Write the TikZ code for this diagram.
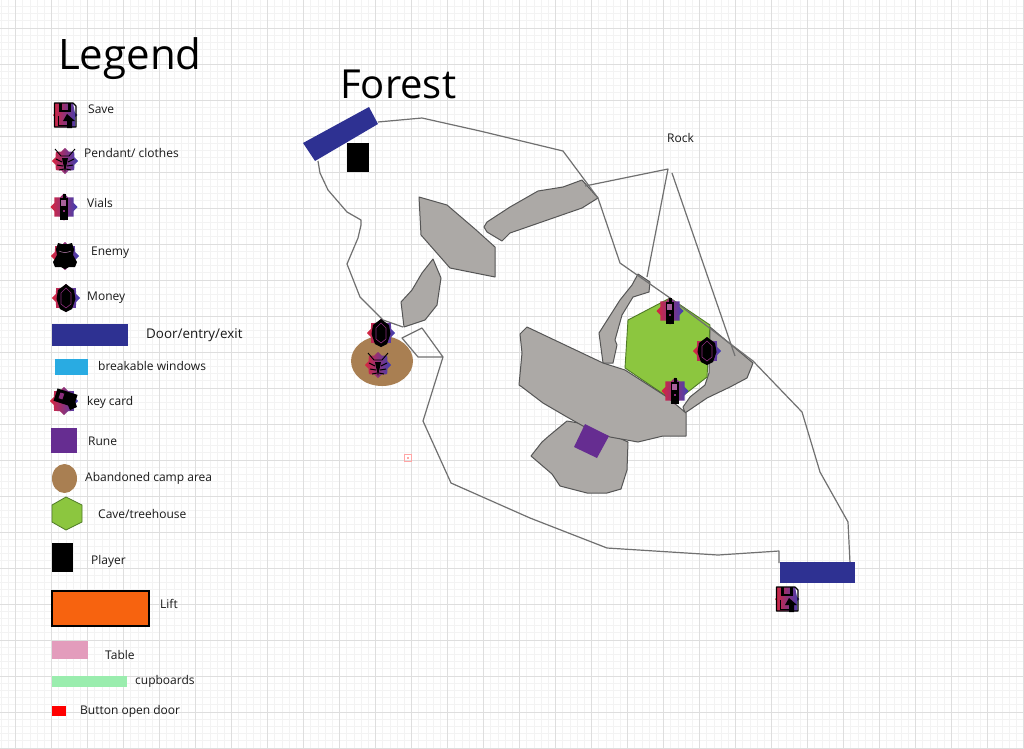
\documentclass[tikz,border=0pt]{standalone}
\usepackage{fontspec}
\setmainfont{Open Sans}
\definecolor{doorblue}{HTML}{2E3192}
\definecolor{rock}{HTML}{ACA9A6}
\definecolor{rockedge}{HTML}{555555}
\definecolor{lineg}{HTML}{707070}
\definecolor{leaf}{HTML}{8CC63F}
\definecolor{leafedge}{HTML}{4F7A26}
\definecolor{camp}{HTML}{A97F52}
\definecolor{runep}{HTML}{662D91}
\definecolor{winblue}{HTML}{29ABE2}
\definecolor{liftor}{HTML}{F7630F}
\definecolor{tablep}{HTML}{E39CBC}
\definecolor{cupg}{HTML}{9AEDAE}
\definecolor{gridmin}{HTML}{F3F3F3}
\definecolor{gridmaj}{HTML}{DEDEDE}
\definecolor{glyphm}{HTML}{8A2D7A}
\definecolor{starred}{HTML}{D8253F}
\definecolor{starblue}{HTML}{3F3FB5}
\tikzset{
  x=1pt,y=-1pt,
  label/.style={anchor=base west,inner sep=0pt,font=\fontsize{12}{14}\selectfont,text=black!90},
  biglabel/.style={label,font=\fontsize{13.4}{15}\selectfont},
  title/.style={anchor=base west,inner sep=0pt,text=black},
  rockshape/.style={fill=rock,draw=rockedge,line width=1pt,line join=round},
  mapline/.style={draw=lineg,line width=1.2pt,line join=round},
  starbg/.style={left color=starred,middle color=glyphm,right color=starblue,draw=none},
  pics/starback/.style={code={
    \shade[starbg] plot[samples at={0,...,15}] ({cos(\x*22.5)*(mod(\x,2)==0?#1:#1*0.78)},{sin(\x*22.5)*(mod(\x,2)==0?#1:#1*0.78)}) -- cycle;
  }},
  pics/icovial/.style={code={
    \pic {starback=13.5};
    \fill[black] (-4,-9) rectangle (4,13);
    \fill[black] (-1.5,-13) rectangle (1.5,-8);
    \fill[glyphm!75!white] (-3,-7) rectangle (2,-1);
    \fill[glyphm] (-1,3) rectangle (1,5);
  }},
  pics/icomoney/.style={code={
    \pic {starback=14};
    \fill[black] (0,-14) -- (8,-8) -- (9.5,1) -- (6,11) -- (0,14) -- (-6,11) -- (-9.5,1) -- (-8,-8) -- cycle;
    \draw[glyphm,line width=0.6pt] (0,-10) -- (5,-5) -- (5,6) -- (0,10) -- (-5,6) -- (-5,-5) -- cycle;
  }},
  pics/icoenemy/.style={code={
    \pic {starback=14};
    \fill[black] (-7,-13) -- (-3,-12) -- (3,-12) -- (7,-13) -- (9,-7) -- (8,-1) -- (12,6) -- (10,11) -- (4,11) -- (0,13) -- (-4,11) -- (-10,11) -- (-12,6) -- (-8,-1) -- (-9,-7) -- cycle;
    \draw[glyphm!60!white,line width=0.5pt] (-6,-5) .. controls (-2,-3) and (2,-3) .. (6,-5);
  }},
  pics/icopendant/.style={code={
    \pic {starback=13};
    \draw[black,line width=0.9pt] (-10,-12) -- (-4,-5) -- (4,-5) -- (10,-12);
    \fill[black] (-3,-3) -- (3,-3) -- (1.5,4) -- (0,11) -- (-1.5,4) -- cycle;
    \draw[black,line width=1pt] (-9,-2) -- (-3,1) (9,-2) -- (3,1) (-8,4) -- (-2,5) (8,4) -- (2,5) (-6,9) -- (-1,8) (6,9) -- (1,8);
  }},
  pics/icosave/.style={code={
    \shade[starbg] (-12,0) -- (-10,-2) -- (-10,-12) -- (8,-12) -- (10,-2) -- (12.5,0) -- (10,2) -- (10,12) -- (-10,12) -- (-10,2) -- cycle;
    \draw[black,line width=1.1pt,line join=round] (-10.5,-12) -- (8,-12) -- (11,-9) -- (11,12) -- (-10.5,12) -- cycle;
    \fill[black] (-6,-12) rectangle (-3,-4);
    \fill[black] (-6,-5) rectangle (6,-3.5);
    \fill[black] (3,-12) rectangle (6,-4);
    \draw[black,line width=1pt] (-7,1) -- (-7,10.5) -- (7,10.5);
    \fill[black] (2,-1) -- (10,6) -- (7,6) -- (7,13) -- (2,13) -- (2,6) -- (-2,6) -- cycle;
  }},
  pics/icokey/.style={code={
    \begin{scope}[rotate=25]
      \pic {starback=14};
    \end{scope}
    \begin{scope}[rotate=-18]
      \fill[black] (-10,-10) rectangle (11,3);
      \fill[glyphm] (-6,-7) rectangle (-2,-1);
    \end{scope}
    \fill[black] (3,2) -- (11,0) -- (13,6) -- (6,9) -- cycle;
  }}
}
\begin{document}
\begin{tikzpicture}
\useasboundingbox (0,0) rectangle (1024,748);
\fill[white] (0,0) rectangle (1024,748);
% grid
\foreach \i in {-2,...,140}{
  \draw[gridmin,line width=0.7pt] ({15.5+7.2*\i},0) -- ({15.5+7.2*\i},748);}
\foreach \i in {-3,...,100}{
  \draw[gridmin,line width=0.7pt] (0,{28+7.2*\i}) -- (1024,{28+7.2*\i});}
\foreach \i in {0,...,28}{
  \draw[gridmaj,line width=1pt] ({15.5+36*\i},0) -- ({15.5+36*\i},748);}
\foreach \i in {0,...,20}{
  \draw[gridmaj,line width=1pt] (0,{28+36*\i}) -- (1024,{28+36*\i});}

% camp
\fill[camp] (382,361) ellipse [x radius=31,y radius=25];

% rocks
\path[rockshape] (419,197) -- (447,205) -- (475,229) -- (495,247) -- (495,277) -- (450,268) -- (421,235) -- cycle;
\path[rockshape] (484,227) -- (487,222) -- (510,207) -- (538,191) -- (563,187) -- (582,180) -- (598,198) -- (582,208) -- (510,233) -- (502,241) -- (487,232) -- cycle;
\path[rockshape] (433,259) -- (441,278) -- (437,305) -- (425,320) -- (404,327) -- (401,302) -- (412,290) -- (422,273) -- cycle;
\path[rockshape] (567,421) -- (550,435) -- (542,442) -- (531,456) -- (552,474) -- (560,486) -- (587,493) -- (607,493) -- (621,489) -- (627,470) -- (628,442) -- (590,425) -- cycle;
\path[rockshape] (638,274) -- (650,282) -- (649,292) -- (633,297) -- (622,315) -- (615,340) -- (617,345) -- (613,363) -- (603,363) -- (599,333) -- (620,300) -- (632,285) -- cycle;
\path[rockshape] (710,327) -- (753,363) -- (747,378) -- (730,387) -- (707,398) -- (685,413) -- (683,407) -- (690,397) -- (705,385) -- (709,373) -- cycle;
\path[fill=leaf,draw=leafedge,line width=0.9pt,line join=round] (628,320) -- (670,298) -- (710,325) -- (707,377) -- (675,402) -- (625,368) -- cycle;
\path[rockshape] (527,327) -- (520,334) -- (522,353) -- (519,385) -- (522,387) -- (543,403) -- (567,417) -- (583,426) -- (610,437) -- (638,442) -- (663,436) -- (686,436) -- (686,413) -- (667,397) -- (625,370) -- (603,363) -- cycle;

% map outline
\draw[mapline] (378,122) -- (422,118) -- (480,131) -- (563,151) -- (598,198) -- (620,263) -- (670,298) -- (753,361) -- (802,412) -- (820,472) -- (848,522) -- (850,563);
\draw[mapline] (779,563) -- (779,551) -- (718,555) -- (607,548) -- (530,518) -- (451,483) -- (423,421) -- (443,357) -- (422,328) -- (402,338) -- (418,357) -- (443,357);
\draw[mapline] (318,161) -- (320,173) -- (328,190) -- (347,212) -- (361,220) -- (361,225) -- (358,238) -- (347,264) -- (360,297) -- (383,320) -- (403,327);
\draw[mapline] (585,186) -- (668,169) -- (647,277);
\draw[mapline] (672,173) -- (735,356);

% doors and player
\fill[doorblue] (369,107) -- (378,124) -- (315,161) -- (303,143) -- cycle;
\fill[black] (347,143) rectangle (369,172);
\fill[doorblue] (780,562) rectangle (855,583);
\fill[runep] (585,424) -- (609,436) -- (597,458) -- (574,447) -- cycle;

% small marker
\draw[red!35,line width=1.2pt] (404.5,454.5) rectangle (411.5,461.5);
\fill[red!35] (407,457) rectangle (409,459);

% map icons
\pic at (381,333) {icomoney};
\pic at (378,365) {icopendant};
\pic at (670,311) {icovial};
\pic at (707,351) {icomoney};
\pic at (675,391) {icovial};
\pic at (787,599) {icosave};

% legend swatches
\pic at (65,115) {icosave};
\pic at (65,161) {icopendant};
\pic at (64,207) {icovial};
\pic at (65,256) {icoenemy};
\pic at (66,298) {icomoney};
\pic at (64,401) {icokey};
\fill[doorblue] (52,324) rectangle (128,346);
\fill[winblue] (55,359) rectangle (88,375);
\fill[runep] (51,428) rectangle (77,453);
\fill[camp] (64.5,478.5) ellipse [x radius=12.5,y radius=14.5];
\path[fill=leaf,draw=leafedge,line width=0.8pt] (66,497) -- (82,505) -- (82,522) -- (66,530) -- (52,522) -- (52,505) -- cycle;
\fill[black] (52,543) rectangle (73,572);
\path[fill=liftor,draw=black,line width=2pt] (52,591) rectangle (149,626);
\fill[tablep] (52,641) rectangle (88,659);
\fill[cupg] (52,676) rectangle (127,687);
\fill[red] (52,706) rectangle (66,716);

% text
\node[title,font=\fontsize{42}{48}\selectfont] (tlegend) at (58,69) {Legend};
\node[title,font=\fontsize{40}{46}\selectfont] (tforest) at (340,98) {Forest};
\node[label] (lrock) at (667,142) {Rock};
\node[label] (lsave) at (88,113) {Save};
\node[label] (lpend) at (84,157) {Pendant/ clothes};
\node[label] (lvial) at (87,207) {Vials};
\node[label] (lenemy) at (91,255) {Enemy};
\node[label] (lmoney) at (87,300) {Money};
\node[biglabel] (ldoor) at (146,338) {Door/entry/exit};
\node[label] (lwin) at (98,370) {breakable windows};
\node[label] (lkey) at (87,405) {key card};
\node[label] (lrune) at (88,445) {Rune};
\node[label] (lcamp) at (85,481) {Abandoned camp area};
\node[label] (lcave) at (98,518) {Cave/treehouse};
\node[label] (lplayer) at (91,564) {Player};
\node[label] (llift) at (160,608) {Lift};
\node[label] (ltable) at (105,659) {Table};
\node[label] (lcup) at (135,684) {cupboards};
\node[label] (lbtn) at (80,714) {Button open door};
\end{tikzpicture}
\end{document}
